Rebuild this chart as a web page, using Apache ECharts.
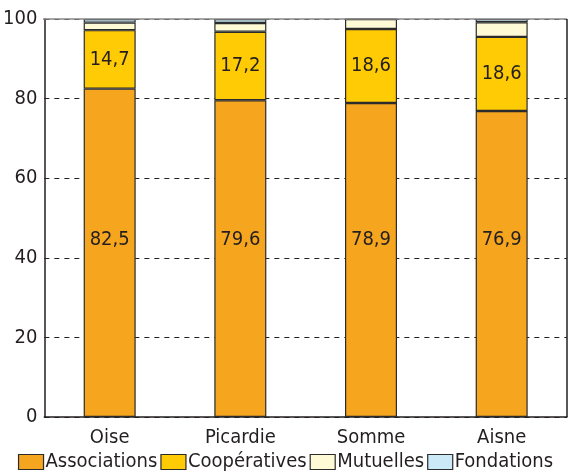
<!DOCTYPE html>
<html><head><meta charset="utf-8">
<script src="https://cdn.jsdelivr.net/npm/echarts@6/dist/echarts.min.js"></script>
<style>html,body{margin:0;padding:0;background:#fff}#c{width:571px;height:473px}</style>
</head><body><div id="c"></div>
<script>
var categories = ['Oise', 'Picardie', 'Somme', 'Aisne'];
var associations = [82.5, 79.6, 78.9, 76.9];
var cooperatives = [14.7, 17.2, 18.6, 18.6];
var mutuelles = [1.9, 2.2, 2.5, 3.7];
var fondations = [0.9, 1.0, 0, 0.8];
var yTicks = [0, 20, 40, 60, 80, 100];

var FONT = '"DejaVu Sans Condensed", "Liberation Sans Narrow", sans-serif';
var chart = echarts.init(document.getElementById('c'));
function fmt(p){ return String(p.value).replace('.', ','); }
function mk(name, data, color, label){
  return {
    name: name, type: 'bar', stack: 's', data: data, barWidth: 52,
    itemStyle: {color: color, borderColor: '#2b2b2b', borderWidth: 1.2},
    label: label || {show: false},
    emphasis: {disabled: true}
  };
}
var lblStyle = {fontFamily: FONT, fontSize: 20, color: '#231f20'};
chart.setOption({
  animation: false,
  grid: {left: 43, right: 4, top: 19, bottom: 56, containLabel: false},
  legend: {
    bottom: -4, left: 'center', itemWidth: 25, itemHeight: 15, itemGap: 3,
    textStyle: {fontFamily: FONT, fontSize: 20, color: '#231f20', padding: [0,0,0,-3]},
    icon: 'rect',
    itemStyle: {borderColor: '#2b2b2b', borderWidth: 1.2},
    data: ['Associations', 'Coopératives', 'Mutuelles', 'Fondations']
  },
  xAxis: {
    type: 'category', data: categories,
    axisLine: {lineStyle: {color: '#231f20', width: 1.5}},
    axisTick: {show: false},
    axisLabel: {fontFamily: FONT, fontSize: 20, color: '#231f20', margin: 11}
  },
  yAxis: {
    type: 'value', min: 0, max: 100, interval: 20,
    axisLine: {show: true, lineStyle: {color: '#231f20', width: 1.5}},
    axisTick: {show: false},
    axisLabel: {fontFamily: FONT, fontSize: 20, color: '#231f20', margin: 7,
      formatter: function(v){ return yTicks.indexOf(v) >= 0 ? String(v) : ''; }},
    splitLine: {show: true, lineStyle: {color: '#231f20', type: [5, 5], width: 1}}
  },
  graphic: [
    {type: 'line', shape: {x1: 43, y1: 19, x2: 567, y2: 19}, style: {stroke: '#888', lineWidth: 1.5}, z: 10},
    {type: 'line', shape: {x1: 567, y1: 19, x2: 567, y2: 417}, style: {stroke: '#231f20', lineWidth: 1.5}, z: 10}
  ],
  series: [
    mk('Associations', associations, '#F6A51F', Object.assign({show: true, position: 'insideBottom', distance: 167, formatter: fmt}, lblStyle)),
    mk('Coopératives', cooperatives, '#FFCB05', Object.assign({show: true, position: 'inside', formatter: fmt}, lblStyle)),
    mk('Mutuelles', mutuelles, '#FFFAD6', null),
    mk('Fondations', fondations, '#CBE9F6', null)
  ]
});
</script></body></html>
